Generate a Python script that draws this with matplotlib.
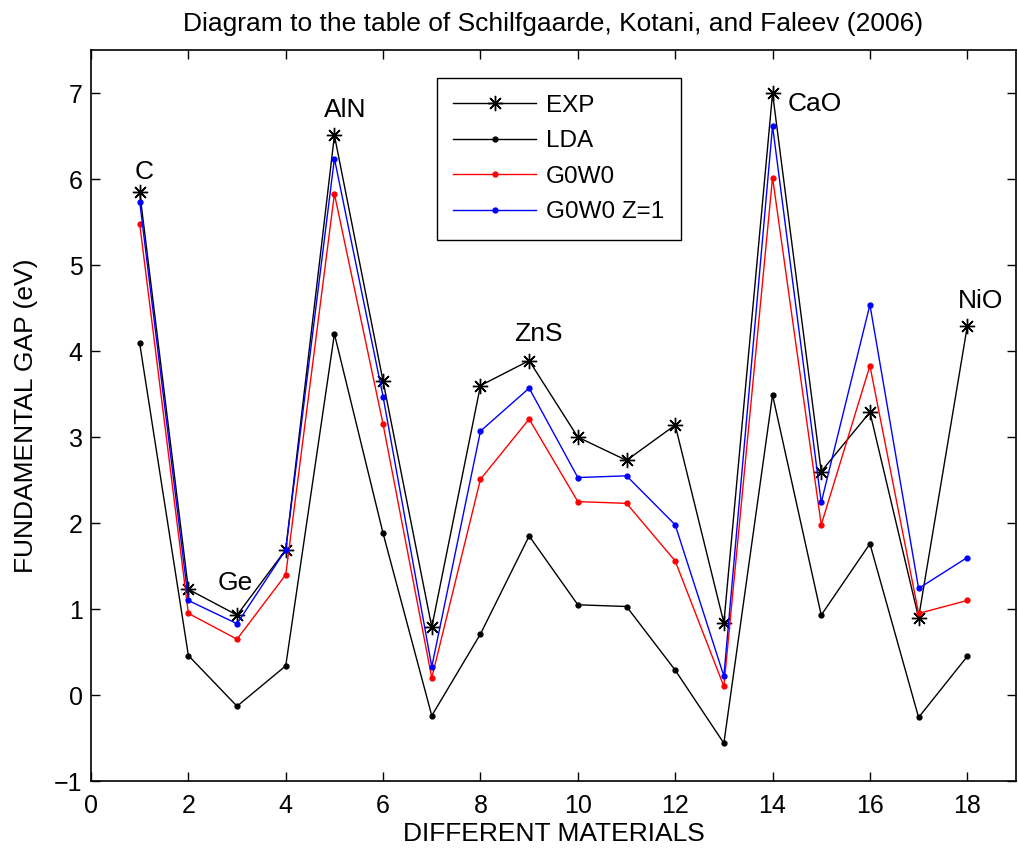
import matplotlib
matplotlib.use("Agg")
import matplotlib.pyplot as plt

plt.rcParams['font.family'] = ['Liberation Sans', 'DejaVu Sans']

# material index 1..18
x = list(range(1, 19))
exp = [5.85, 1.23, 0.93, 1.69, 6.51, 3.65, 0.79, 3.60, 3.89, 3.00, 2.73, 3.14, 0.84, 7.00, 2.60, 3.29, 0.90, 4.29]
lda = [4.09, 0.46, -0.13, 0.34, 4.20, 1.88, -0.24, 0.71, 1.85, 1.05, 1.03, 0.29, -0.56, 3.49, 0.93, 1.76, -0.26, 0.45]
g0w0 = [5.48, 0.95, 0.65, 1.40, 5.83, 3.15, 0.20, 2.51, 3.21, 2.25, 2.23, 1.56, 0.10, 6.02, 1.98, 3.83, 0.95, 1.10]
g0w0_z1 = [5.74, 1.10, 0.83, 1.69, 6.24, 3.47, 0.33, 3.07, 3.57, 2.53, 2.55, 1.98, 0.22, 6.62, 2.24, 4.54, 1.24, 1.60]

# labels for some materials: (text, x, y)
names = [("C", 0.89, 6.08), ("Ge", 2.60, 1.30), ("AlN", 4.79, 6.80),
         ("ZnS", 8.70, 4.20), ("CaO", 14.30, 6.88), ("NiO", 17.81, 4.58)]

fig = plt.figure(figsize=(10.18, 8.52), dpi=100)
ax = fig.add_axes([0.0894, 0.0833, 0.9086, 0.8577])

ax.plot(x, exp, color='k', lw=1, marker=(8, 2, 0), ms=11, mew=1, label='EXP')
ax.plot(x, lda, color='k', lw=1, marker='o', ms=3.5, label='LDA')
ax.plot(x, g0w0, color='r', lw=1, marker='o', ms=3.5, label='G0W0')
ax.plot(x, g0w0_z1, color='b', lw=1, marker='o', ms=3.5, label='G0W0 Z=1')

for t, tx, ty in names:
    ax.text(tx, ty, t, fontsize=19, ha='left', va='center')

ax.set_xlim(0, 19)
ax.set_ylim(-1, 7.5)
ax.set_xticks(range(0, 19, 2))
ax.set_yticks(range(-1, 8))
ax.tick_params(direction='in', length=6.5, width=1, labelsize=18,
               top=True, right=True)
ax.tick_params(axis='x', pad=9)
ax.tick_params(axis='y', pad=6)
for s in ax.spines.values():
    s.set_linewidth(1.2)

ax.set_xlabel("DIFFERENT MATERIALS", fontsize=19, labelpad=3)
ax.set_ylabel("FUNDAMENTAL GAP (eV)", fontsize=19, labelpad=12)
ax.set_title("Diagram to the table of Schilfgaarde, Kotani, and Faleev (2006)",
             fontsize=19, pad=14)

leg = ax.legend(loc='upper left', bbox_to_anchor=(0.374, 0.962), fontsize=17.5,
                frameon=True, fancybox=False, framealpha=1, edgecolor='k',
                handlelength=3.4, handletextpad=0.4, labelspacing=0.56,
                borderpad=0.68, borderaxespad=0)
leg.get_frame().set_linewidth(1)

fig.savefig("out.png", dpi=100)
